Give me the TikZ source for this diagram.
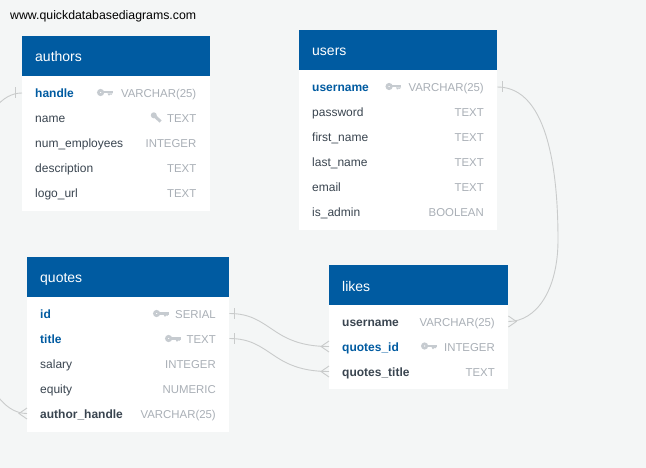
\documentclass[tikz,border=0pt]{standalone}
\usepackage{fontspec}
\setmainfont{Liberation Sans}
\usepackage{xcolor}
\definecolor{pagebg}{HTML}{F4F6F6}
\definecolor{headblue}{HTML}{005BA1}
\definecolor{rowdark}{HTML}{3A4550}
\definecolor{typegray}{HTML}{A9AFB6}
\definecolor{icongray}{HTML}{C6CBD0}
\definecolor{linegray}{HTML}{C9CBCB}
\tikzset{
  tablebody/.style={fill=white,inner sep=0pt,anchor=north west},
  tablehead/.style={fill=headblue,inner sep=0pt,anchor=north west,minimum height=40pt},
  headtext/.style={anchor=base west,inner sep=0pt,text=white,font=\fontsize{14}{14}\selectfont},
  rowname/.style={anchor=base west,inner sep=0pt,text=rowdark,font=\fontsize{12}{12}\selectfont},
  fkname/.style={rowname,font=\fontsize{12}{12}\selectfont\bfseries},
  pkname/.style={fkname,text=headblue},
  rowtype/.style={anchor=base east,inner sep=0pt,text=typegray,font=\fontsize{11.4}{12}\selectfont},
  relline/.style={draw=linegray,line width=0.9pt},
  rowend/.style={yshift=4.5pt},
  keyicon/.pic={
    \draw[icongray,line width=2.6pt] (-4.4,0) circle (2.2);
    \fill[icongray] (-2,-1.4) rectangle (7.5,1);
    \fill[icongray] (2.5,1) -- (7.5,1) -- (6.2,2.4) -- (5.2,1.8) -- (4.4,3) -- (3.6,3) -- cycle;
  },
  wrenchicon/.pic={
    \draw[icongray,line width=3pt] (-1.5,-1.5) -- (4.6,4);
    \fill[icongray] (-2.2,-2.2) circle (3);
  },
  crossbar/.pic={
    \draw[relline] (0,-5.5) -- (0,5.5);
  },
  crowfoot/.pic={
    \draw[relline] (0,-5.5) -- (-8,0) -- (0,5.5);
  }
}

\begin{document}
\begin{tikzpicture}[x=1pt,y=-1pt]
    \useasboundingbox (0,0) rectangle (646,468);
    \clip (0,0) rectangle (646,468);
    \fill[pagebg] (0,0) rectangle (646,468);

    % Site address
    \node[anchor=base west,inner sep=0pt,text=black,font=\fontsize{12.3}{12}\selectfont] (siteurl) at (10,20) {www.quickdatabasediagrams.com};

    % Table authors
    \node[tablebody,minimum width=187.5pt,minimum height=175pt] (authors) at (22,36) {};
    \node[tablehead,minimum width=187.5pt] (authors-head) at (22,36) {};
    \node[headtext] (authors-title) at (35,62) {authors};
    \node[pkname] (authors-handle) at (35,97.5) {handle};
    \node[rowtype] (authors-handle-t) at (196.5,97.5) {VARCHAR(25)};
    \pic at (105,92.5) {keyicon};
    \node[rowname] (authors-name) at (35,122.5) {name};
    \node[rowtype] (authors-name-t) at (196.5,122.5) {TEXT};
    \pic at (156,117.5) {wrenchicon};
    \node[rowname] (authors-emp) at (35,147.5) {num\_employees};
    \node[rowtype] (authors-emp-t) at (196.5,147.5) {INTEGER};
    \node[rowname] (authors-desc) at (35,172.5) {description};
    \node[rowtype] (authors-desc-t) at (196.5,172.5) {TEXT};
    \node[rowname] (authors-logo) at (35,197.5) {logo\_url};
    \node[rowtype] (authors-logo-t) at (196.5,197.5) {TEXT};

    % Table users
    \node[tablebody,minimum width=198pt,minimum height=200pt] (users) at (299,30) {};
    \node[tablehead,minimum width=198pt] (users-head) at (299,30) {};
    \node[headtext] (users-title) at (312,56) {users};
    \node[pkname] (users-username) at (312,91.5) {username};
    \node[rowtype] (users-username-t) at (484,91.5) {VARCHAR(25)};
    \pic at (393.5,86.5) {keyicon};
    \node[rowname] (users-password) at (312,116.5) {password};
    \node[rowtype] (users-password-t) at (484,116.5) {TEXT};
    \node[rowname] (users-first) at (312,141.5) {first\_name};
    \node[rowtype] (users-first-t) at (484,141.5) {TEXT};
    \node[rowname] (users-last) at (312,166.5) {last\_name};
    \node[rowtype] (users-last-t) at (484,166.5) {TEXT};
    \node[rowname] (users-email) at (312,191.5) {email};
    \node[rowtype] (users-email-t) at (484,191.5) {TEXT};
    \node[rowname] (users-admin) at (312,216.5) {is\_admin};
    \node[rowtype] (users-admin-t) at (484,216.5) {BOOLEAN};

    % Table quotes
    \node[tablebody,minimum width=202pt,minimum height=175pt] (quotes) at (27,257) {};
    \node[tablehead,minimum width=202pt] (quotes-head) at (27,257) {};
    \node[headtext] (quotes-title) at (40,282.5) {quotes};
    \node[pkname] (quotes-id) at (40,318) {id};
    \node[rowtype] (quotes-id-t) at (216,318) {SERIAL};
    \pic at (161,313.5) {keyicon};
    \node[pkname] (quotes-qtitle) at (40,343) {title};
    \node[rowtype] (quotes-qtitle-t) at (216,343) {TEXT};
    \pic at (173,338.5) {keyicon};
    \node[rowname] (quotes-salary) at (40,368) {salary};
    \node[rowtype] (quotes-salary-t) at (216,368) {INTEGER};
    \node[rowname] (quotes-equity) at (40,393) {equity};
    \node[rowtype] (quotes-equity-t) at (216,393) {NUMERIC};
    \node[fkname] (quotes-author) at (40,418) {author\_handle};
    \node[rowtype] (quotes-author-t) at (216,418) {VARCHAR(25)};

    % Table likes
    \node[tablebody,minimum width=179pt,minimum height=124.5pt] (likes) at (329,264.5) {};
    \node[tablehead,minimum width=179pt] (likes-head) at (329,264.5) {};
    \node[headtext] (likes-title) at (342,291) {likes};
    \node[fkname] (likes-username) at (342,326) {username};
    \node[rowtype] (likes-username-t) at (495,326) {VARCHAR(25)};
    \node[pkname] (likes-qid) at (342,351) {quotes\_id};
    \node[rowtype] (likes-qid-t) at (495,351) {INTEGER};
    \pic at (429,346) {keyicon};
    \node[fkname] (likes-qtitle) at (342,376) {quotes\_title};
    \node[rowtype] (likes-qtitle-t) at (495,376) {TEXT};

    % Connector ends
    \coordinate[rowend] (handle-end) at (authors.west |- authors-handle-t.base);
    \coordinate[rowend] (author-end) at (quotes.west |- quotes-author-t.base);
    \coordinate[rowend] (id-end) at (quotes.east |- quotes-id-t.base);
    \coordinate[rowend] (title-end) at (quotes.east |- quotes-qtitle-t.base);
    \coordinate[rowend] (username-end) at (users.east |- users-username-t.base);
    \coordinate[rowend] (lusername-end) at (likes.east |- likes-username-t.base);
    \coordinate[rowend] (lqid-end) at (likes.west |- likes-qid-t.base);
    \coordinate[rowend] (lqtitle-end) at (likes.west |- likes-qtitle-t.base);
    \coordinate (username-bend) at (558,240);

    % Connectors
    \draw[relline] (handle-end) .. controls +(-80,0) and +(-80,0) .. (author-end);
    \draw[relline] (id-end) .. controls +(42,0) and +(-58,0) .. (lqid-end);
    \draw[relline] (title-end) .. controls +(42,0) and +(-58,0) .. (lqtitle-end);
    \draw[relline] (username-end) .. controls +(53,0) and +(0,-60) .. (username-bend)
        .. controls +(0,50) and +(28,0) .. (lusername-end);

    % Bars and feet
    \pic at ([xshift=-7pt]handle-end) {crossbar};
    \pic at (author-end) {crowfoot};
    \pic at ([xshift=5.5pt]id-end) {crossbar};
    \pic at ([xshift=5.5pt]title-end) {crossbar};
    \pic at ([xshift=5pt]username-end) {crossbar};
    \pic at (lqid-end) {crowfoot};
    \pic at (lqtitle-end) {crowfoot};
    \pic[xscale=-1] at (lusername-end) {crowfoot};
\end{tikzpicture}
\end{document}
